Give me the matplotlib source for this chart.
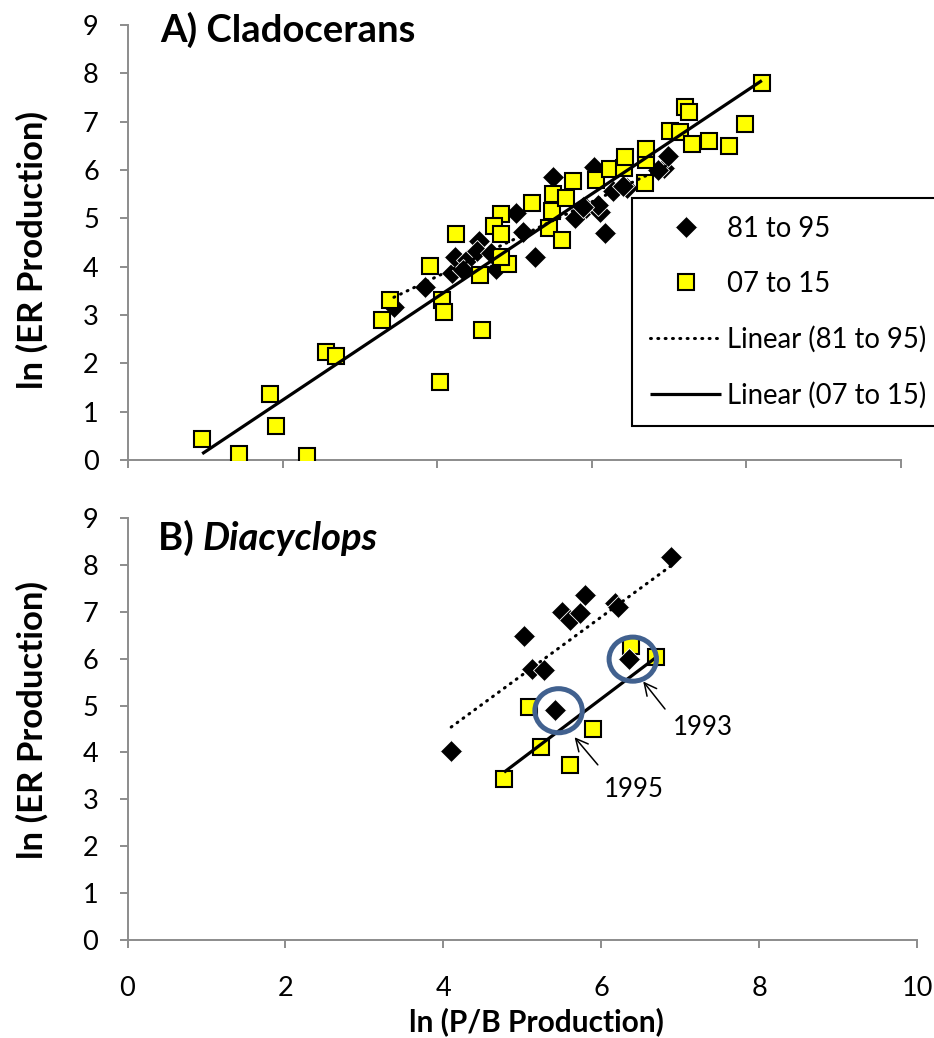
import matplotlib
matplotlib.use('Agg')
import matplotlib.pyplot as plt
import numpy as np
from matplotlib.patches import Ellipse
from matplotlib.lines import Line2D
from matplotlib.legend_handler import HandlerLine2D

plt.rcParams['font.family'] = ['Lato', 'DejaVu Sans']

# ---------------- data ----------------
# Panel A: Cladocerans
a_8195_x = [3.44, 3.84, 4.19, 4.23, 4.38, 4.54, 4.52, 4.76, 5.02, 5.11, 5.27, 5.50,
            6.03, 6.17, 5.78, 5.93, 6.11, 6.28, 6.45, 6.93, 6.86, 6.41, 6.08, 5.89,
            4.70, 4.33, 6.98]
a_8195_y = [3.17, 3.57, 3.86, 4.21, 4.14, 4.53, 4.33, 3.95, 5.11, 4.71, 4.21, 5.85,
            6.07, 4.69, 5.00, 5.21, 5.14, 5.56, 5.62, 6.04, 6.00, 5.66, 5.28, 5.24,
            4.28, 3.93, 6.30]
a_0715_x = [0.96, 1.43, 1.84, 1.91, 2.32, 2.56, 2.69, 3.29, 3.39, 3.91, 4.06, 4.09,
            4.03, 4.58, 4.24, 4.55, 4.91, 4.83, 4.73, 4.83, 4.83, 5.22, 5.50, 5.44,
            5.61, 5.48, 5.67, 5.76, 6.06, 6.24, 6.42, 6.43, 6.69, 6.70, 6.70, 7.01,
            7.14, 7.21, 7.26, 7.29, 7.52, 7.78, 7.98, 8.20]
a_0715_y = [0.43, 0.13, 1.37, 0.71, 0.09, 2.23, 2.15, 2.90, 3.31, 4.02, 3.31, 3.06,
            1.62, 2.69, 4.68, 3.83, 4.05, 5.10, 4.85, 4.67, 4.20, 5.31, 5.50, 4.80,
            4.55, 5.15, 5.43, 5.78, 5.80, 6.02, 6.04, 6.26, 5.74, 6.21, 6.43, 6.80,
            6.78, 7.31, 7.19, 6.54, 6.61, 6.50, 6.95, 7.81]

# Panel B: Diacyclops
b_8195_x = [4.10, 5.02, 5.12, 5.27, 5.50, 5.60, 5.73, 5.79, 6.17, 6.21, 6.89, 5.41, 6.35]
b_8195_y = [4.04, 6.49, 5.77, 5.76, 7.00, 6.82, 6.97, 7.36, 7.18, 7.11, 8.17, 4.90, 6.00]
b_0715_x = [4.77, 5.09, 5.24, 5.90, 5.60, 6.38, 6.70]
b_0715_y = [3.43, 4.97, 4.11, 4.50, 3.73, 6.27, 6.04]

# highlighted years in panel B
hl_years = ['1995', '1993']
hl_x = [5.41, 6.35]
hl_y = [4.90, 6.00]
hl_text_x = [6.42, 7.29]
hl_text_y = [3.20, 4.54]
hl_tail_x = [5.98, 6.83]
hl_tail_y = [3.69, 4.88]
hl_head_x = [5.64, 6.51]
hl_head_y = [4.37, 5.56]

labels = ['81 to 95', '07 to 15', 'Linear (81 to 95)', 'Linear (07 to 15)']

# ---------------- figure ----------------
W, H = 934, 1038
fig = plt.figure(figsize=(W / 100, H / 100), dpi=100)
axA = fig.add_axes([128 / W, 1 - 460 / H, 773 / W, 435 / H])
axB = fig.add_axes([127.5 / W, 1 - 940 / H, 789.5 / W, 422 / H])

grey = '#8c8c8c'
YEL = '#ffff00'
sq_kw = dict(marker='s', ms=12, mfc=YEL, mec='black', mew=1.5, ls='none')
di_kw = dict(marker='D', ms=11.5, mfc='black', mec='white', mew=0.6, ls='none')
dot_kw = dict(color='black', lw=2.2, ls=(0, (0.3, 2.1)), dash_capstyle='round')
sol_kw = dict(color='black', lw=2.3, ls='-', solid_capstyle='butt')


def style(ax, xlabels=True):
    ax.set_xlim(0, 10)
    ax.set_ylim(0, 9)
    ax.set_xticks(range(0, 11, 2))
    ax.set_yticks(range(0, 10))
    for s in ['top', 'right']:
        ax.spines[s].set_visible(False)
    for s in ['left', 'bottom']:
        ax.spines[s].set_color(grey)
        ax.spines[s].set_linewidth(1.4)
    ax.tick_params(axis='both', direction='out', length=6, width=1.4, color=grey,
                   labelsize=19.5, labelcolor='black')
    ax.tick_params(axis='y', pad=15)
    ax.tick_params(axis='x', pad=20)
    if not xlabels:
        ax.set_xticklabels([])


def trend(ax, x, y, kw):
    x = np.asarray(x)
    y = np.asarray(y)
    m, b = np.polyfit(x, y, 1)
    xs = np.array([x.min(), x.max()])
    ax.plot(xs, m * xs + b, zorder=5, **kw)


# Panel A
style(axA, xlabels=False)
axA.plot(a_8195_x, a_8195_y, zorder=3, **di_kw)
axA.plot(a_0715_x, a_0715_y, zorder=4, **sq_kw)
trend(axA, a_8195_x, a_8195_y, dot_kw)
trend(axA, a_0715_x, a_0715_y, sol_kw)

# Panel B
style(axB, xlabels=True)
axB.plot(b_0715_x, b_0715_y, zorder=3, **sq_kw)
axB.plot(b_8195_x, b_8195_y, zorder=4, **di_kw)
trend(axB, b_8195_x, b_8195_y, dot_kw)
trend(axB, b_0715_x, b_0715_y, sol_kw)

for i in range(len(hl_years)):
    axB.add_patch(Ellipse((hl_x[i] + 0.05, hl_y[i] - 0.01), 0.60, 0.94, fill=False,
                          ec='#41618f', lw=3.6, zorder=6))
    axB.annotate('', xy=(hl_head_x[i], hl_head_y[i]), xytext=(hl_tail_x[i], hl_tail_y[i]),
                 arrowprops=dict(arrowstyle='->', lw=1.1, color='black',
                                 mutation_scale=22), zorder=7)
    axB.text(hl_text_x[i], hl_text_y[i], hl_years[i], fontsize=18.5, ha='center',
             va='center', zorder=7)


# Legend
class LeftMarker(HandlerLine2D):
    def get_xdata(self, legend, xdescent, ydescent, width, height, fontsize):
        return [-xdescent, -xdescent + width], [-xdescent + 0.2 * width]


h_di = Line2D([], [], **di_kw)
h_sq = Line2D([], [], **sq_kw)
h_dot = Line2D([], [], **dot_kw)
h_sol = Line2D([], [], **sol_kw)
leg = axA.legend([h_di, h_sq, h_dot, h_sol], labels, loc='upper left',
                 bbox_to_anchor=(632 / W, 1 - 198 / H), bbox_transform=fig.transFigure,
                 frameon=True, fancybox=False, edgecolor='black', framealpha=1,
                 fontsize=19.8, handlelength=2.6, handletextpad=0.2, borderpad=0.65,
                 labelspacing=1.05, borderaxespad=0, numpoints=1,
                 handler_map={h_di: LeftMarker(), h_sq: LeftMarker()})
leg.get_frame().set_linewidth(1.5)

# Titles
fig.text(160 / W, 1 - 30 / H, 'A) Cladocerans', fontsize=27.5, fontweight='bold',
         ha='left', va='center')
tB = fig.text(158 / W, 1 - 538 / H, 'B) ', fontsize=27.5, fontweight='bold',
              ha='left', va='center')
axB.annotate('Diacyclops', xy=(1, 0), xycoords=tB, fontsize=27.5, fontweight='bold',
             fontstyle='italic', ha='left', va='bottom')

# Axis labels
fig.text(32 / W, 1 - 250 / H, 'ln (ER Production)', rotation=90, fontsize=25,
         fontweight='bold', ha='center', va='center')
fig.text(32 / W, 1 - 720 / H, 'ln (ER Production)', rotation=90, fontsize=25,
         fontweight='bold', ha='center', va='center')
fig.text(536 / W, 1 - 1022 / H, 'ln (P/B Production)', fontsize=21.5,
         fontweight='bold', ha='center', va='center')

fig.savefig('out.png', dpi=100)
